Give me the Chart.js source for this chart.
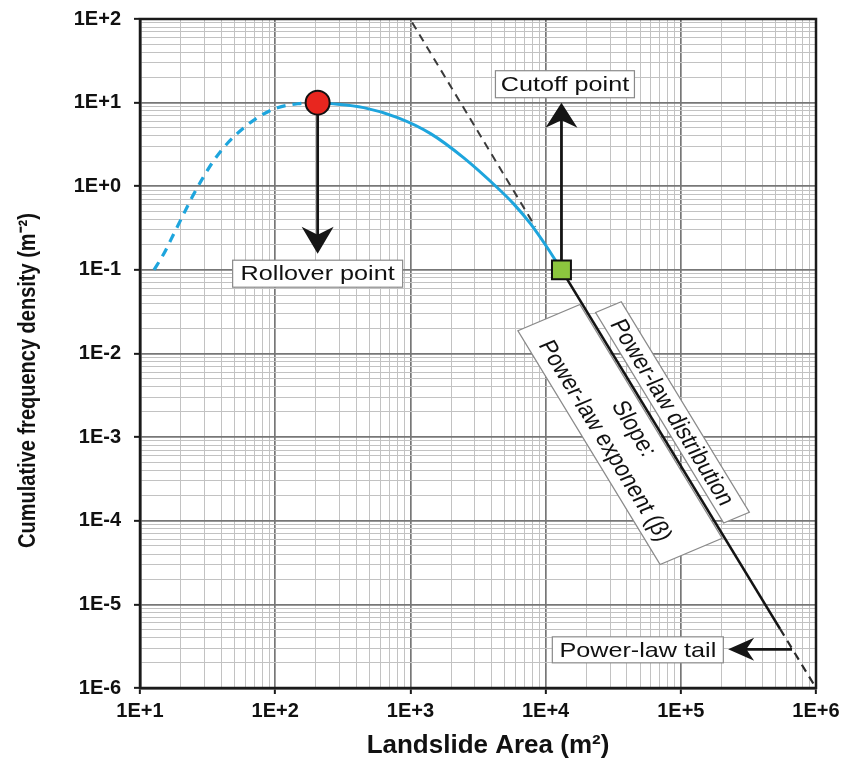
<!DOCTYPE html>
<html>
<head>
<meta charset="utf-8">
<script src="https://cdn.jsdelivr.net/npm/chart.js@4.4.1/dist/chart.umd.min.js"></script>
<style>
  html, body { margin: 0; padding: 0; background: #fff; }
  #wrap { width: 843px; height: 762px; }
</style>
</head>
<body>
<div id="wrap"><canvas id="chart" width="843" height="762"></canvas></div>
<script>
// axis decades and labels
const xTicks = [1e1, 1e2, 1e3, 1e4, 1e5, 1e6];
const xTickLabels = ["1E+1", "1E+2", "1E+3", "1E+4", "1E+5", "1E+6"];
const yTicks = [1e-6, 1e-5, 1e-4, 1e-3, 1e-2, 1e-1, 1e0, 1e1, 1e2];
const yTickLabels = ["1E-6", "1E-5", "1E-4", "1E-3", "1E-2", "1E-1", "1E+0", "1E+1", "1E+2"];
const minorSteps = [2, 3, 4, 5, 6, 7, 8, 9];
const xTitle = "Landslide Area (m\u00b2)";
const yTitle = "Cumulative frequency density (m\u207b\u00b2)";

// rising limb (dashed blue) up to the rollover
const risingX = [12.7, 15, 17.8, 21.1, 24.6, 29.2, 35.2, 44.7, 58.7, 78.3, 104, 147, 206];
const risingY = [0.1, 0.156, 0.271, 0.47, 0.77, 1.26, 2.04, 3.31, 5.01, 7.0, 8.7, 9.7, 10];

// falling limb (solid blue) rollover -> cutoff
const fallingX = [206, 257, 451, 804, 1410, 2470, 4400, 5780, 7720, 10300, 13100];
const fallingY = [10, 9.73, 8.71, 6.62, 4.26, 2.2, 0.96, 0.62, 0.357, 0.184, 0.1];

// power-law tail (solid black) and its dashed extensions
const tailX = [13100, 542000];
const tailY = [0.1, 5.1e-6];
const tailEndX = [542000, 1e6];
const tailEndY = [5.1e-6, 1e-6];
const upperX = [1030, 8400];
const upperY = [91, 0.327];

const rollover = { x: 206, y: 10 };
const cutoff = { x: 13100, y: 0.1 };

// annotation anchors (data coords)
const labelBoxes = [
  { text: "Rollover point", x: 206, y: 0.09, w: 170, h: 27 },
  { text: "Cutoff point", x: 13900, y: 16.6, w: 139, h: 27 },
  { text: "Power-law tail", x: 48100, y: 2.86e-6, w: 171, h: 26 },
];
const arrows = [
  { from: [206, 10], to: [206, 0.156], len: 27, half: 16 },
  { from: [13100, 0.1], to: [13100, 10], len: 25, half: 16 },
  { from: [6.65e5, 2.9e-6], to: [2.24e5, 2.9e-6], len: 26, half: 11.5 },
];
const slopeBoxes = [
  { lines: ["Power-law distribution"], x: 62500, y: 1.58e-3, dy: -18, w: 236, h: 24 },
  { lines: ["Slope:", "Power-law exponent (\u03b2)"], x: 62500, y: 1.58e-3, dy: 31, w: 262, h: 58 },
];

const STRETCH = 1.2;

function pts(xs, ys) {
  return xs.map((x, i) => ({ x, y: ys[i] }));
}

function isMajor(v) {
  const l = Math.log10(v);
  return Math.abs(l - Math.round(l)) < 1e-9;
}

function buildTicks(decades) {
  const out = [];
  decades.forEach((d, i) => {
    out.push({ value: d });
    if (i < decades.length - 1) minorSteps.forEach((m) => out.push({ value: d * m }));
  });
  return out;
}

function gridFor(ctx) {
  return ctx.tick && isMajor(ctx.tick.value);
}

function stretchedText(ctx, text, x, y, angle) {
  ctx.save();
  ctx.translate(x, y);
  ctx.scale(STRETCH, 1);
  if (angle) ctx.rotate(angle);
  ctx.fillText(text, 0, 0);
  ctx.restore();
}

const annotationPlugin = {
  id: "annotations",
  beforeDatasetsDraw(chart) {
    const { ctx, scales: { x, y } } = chart;
    ctx.save();

    // arrows
    ctx.fillStyle = "#151515";
    ctx.strokeStyle = "#151515";
    arrows.forEach((a) => {
      const x0 = x.getPixelForValue(a.from[0]);
      const y0 = y.getPixelForValue(a.from[1]);
      const x1 = x.getPixelForValue(a.to[0]);
      const y1 = y.getPixelForValue(a.to[1]);
      const ang = Math.atan2(y1 - y0, x1 - x0);
      const ux = Math.cos(ang), uy = Math.sin(ang);
      ctx.lineWidth = 2.8;
      ctx.beginPath();
      ctx.moveTo(x0, y0);
      ctx.lineTo(x1 - ux * a.len * 0.6, y1 - uy * a.len * 0.6);
      ctx.stroke();
      const bx = x1 - ux * a.len, by = y1 - uy * a.len;
      ctx.beginPath();
      ctx.moveTo(x1, y1);
      ctx.lineTo(bx - uy * a.half, by + ux * a.half);
      ctx.lineTo(x1 - ux * a.len * 0.7, y1 - uy * a.len * 0.7);
      ctx.lineTo(bx + uy * a.half, by - ux * a.half);
      ctx.closePath();
      ctx.fill();
    });

    // flat label boxes
    ctx.font = "21px Arial, 'Liberation Sans', sans-serif";
    ctx.textAlign = "center";
    ctx.textBaseline = "middle";
    labelBoxes.forEach((b) => {
      const cx = x.getPixelForValue(b.x);
      const cy = y.getPixelForValue(b.y);
      ctx.fillStyle = "#ffffff";
      ctx.fillRect(cx - b.w / 2, cy - b.h / 2, b.w, b.h);
      ctx.strokeStyle = "#8a8a8a";
      ctx.lineWidth = 1.2;
      ctx.strokeRect(cx - b.w / 2, cy - b.h / 2, b.w, b.h);
      ctx.fillStyle = "#111111";
      stretchedText(ctx, b.text, cx, cy + 1);
    });

    // rotated boxes along the power-law line
    const px0 = x.getPixelForValue(tailX[0]), py0 = y.getPixelForValue(tailY[0]);
    const px1 = x.getPixelForValue(tailEndX[1]), py1 = y.getPixelForValue(tailEndY[1]);
    const rot = Math.atan2(py1 - py0, (px1 - px0) / STRETCH);
    slopeBoxes.forEach((b) => {
      const cx = x.getPixelForValue(b.x);
      const cy = y.getPixelForValue(b.y);
      ctx.save();
      ctx.translate(cx, cy);
      ctx.scale(STRETCH, 1);
      ctx.rotate(rot);
      ctx.fillStyle = "#ffffff";
      ctx.fillRect(-b.w / 2, b.dy - b.h / 2, b.w, b.h);
      ctx.strokeStyle = "#8a8a8a";
      ctx.lineWidth = 1.1;
      ctx.strokeRect(-b.w / 2, b.dy - b.h / 2, b.w, b.h);
      ctx.fillStyle = "#111111";
      const step = 27;
      b.lines.forEach((line, i) => {
        const off = (i - (b.lines.length - 1) / 2) * step;
        ctx.fillText(line, 0, b.dy + off + 1);
      });
      ctx.restore();
    });

    ctx.restore();
  },
  afterDatasetsDraw(chart) {
    const { ctx, chartArea: a } = chart;
    ctx.save();
    ctx.strokeStyle = "#1a1a1a";
    ctx.lineWidth = 2.5;
    ctx.strokeRect(a.left, a.top, a.right - a.left, a.bottom - a.top);
    ctx.restore();
  },
  afterDraw(chart) {
    // axis titles
    const { ctx, chartArea: a } = chart;
    ctx.save();
    ctx.fillStyle = "#111111";
    ctx.textAlign = "center";
    ctx.textBaseline = "middle";
    ctx.font = "bold 26px Arial, 'Liberation Sans', sans-serif";
    ctx.fillText(xTitle, (a.left + a.right) / 2 + 10, 746);
    ctx.font = "bold 20px Arial, 'Liberation Sans', sans-serif";
    stretchedText(ctx, yTitle, 28, (a.top + a.bottom) / 2 + 27, -Math.PI / 2);
    ctx.restore();
  },
};

const tickFont = { family: "Arial, 'Liberation Sans', sans-serif", size: 20, weight: "bold" };

function fixPadding(scale) {
  scale.paddingTop = 0;
  scale.paddingBottom = 0;
  scale.paddingLeft = 0;
  scale.paddingRight = 0;
}

const chart = new Chart(document.getElementById("chart"), {
  type: "line",
  data: {
    datasets: [
      {
        data: [rollover],
        showLine: false,
        pointStyle: "circle",
        pointRadius: 12,
        pointBackgroundColor: "#e8261f",
        pointBorderColor: "#111111",
        pointBorderWidth: 2,
      },
      {
        data: [cutoff],
        showLine: false,
        pointStyle: "rect",
        pointRadius: 13.4,
        pointBackgroundColor: "#8cc63e",
        pointBorderColor: "#111111",
        pointBorderWidth: 2,
      },
      {
        data: pts(tailX, tailY),
        borderColor: "#141414",
        borderWidth: 2.6,
        pointRadius: 0,
      },
      {
        data: pts(tailEndX, tailEndY),
        borderColor: "#2a2a2a",
        borderWidth: 2.2,
        borderDash: [8, 6],
        pointRadius: 0,
      },
      {
        data: pts(fallingX, fallingY),
        borderColor: "#1ea5dd",
        borderWidth: 3,
        pointRadius: 0,
        cubicInterpolationMode: "monotone",
      },
      {
        data: pts(risingX, risingY),
        borderColor: "#1ea5dd",
        borderWidth: 3.2,
        borderDash: [9, 7],
        pointRadius: 0,
        cubicInterpolationMode: "monotone",
      },
      {
        data: pts(upperX, upperY),
        borderColor: "#3a3a3a",
        borderWidth: 2,
        borderDash: [8, 6],
        pointRadius: 0,
      },
    ],
  },
  options: {
    responsive: false,
    animation: false,
    layout: { padding: { left: 12, top: 19, right: 27, bottom: 0 } },
    plugins: { legend: { display: false }, tooltip: { enabled: false } },
    scales: {
      x: {
        type: "logarithmic",
        min: 10,
        max: 1e6,
        afterBuildTicks: (scale) => { scale.ticks = buildTicks(xTicks); },
        afterFit: (scale) => { scale.height = 74; fixPadding(scale); },
        ticks: {
          autoSkip: false,
          maxRotation: 0,
          padding: 5,
          color: "#111111",
          font: tickFont,
          callback: (v) => { const i = xTicks.findIndex((t) => Math.abs(t - v) / t < 1e-9); return i >= 0 ? xTickLabels[i] : ""; },
        },
        grid: {
          color: (c) => (gridFor(c) ? "#777777" : "#c2c2c2"),
          lineWidth: (c) => (gridFor(c) ? 1.7 : 1),
          tickLength: 6,
          tickColor: (c) => (gridFor(c) ? "#1a1a1a" : "rgba(0,0,0,0)"),
          tickWidth: 2,
        },
        border: { color: "#1a1a1a", width: 2.5 },
        title: { display: false, text: xTitle },
      },
      y: {
        type: "logarithmic",
        min: 1e-6,
        max: 100,
        afterBuildTicks: (scale) => { scale.ticks = buildTicks(yTicks); },
        afterFit: (scale) => { scale.width = 128; fixPadding(scale); },
        ticks: {
          autoSkip: false,
          padding: 13,
          color: "#111111",
          font: tickFont,
          callback: (v) => { const i = yTicks.findIndex((t) => Math.abs(t - v) / t < 1e-9); return i >= 0 ? yTickLabels[i] : ""; },
        },
        grid: {
          color: (c) => (gridFor(c) ? "#777777" : "#c2c2c2"),
          lineWidth: (c) => (gridFor(c) ? 1.7 : 1),
          tickLength: 6,
          tickColor: (c) => (gridFor(c) ? "#1a1a1a" : "rgba(0,0,0,0)"),
          tickWidth: 2,
        },
        border: { color: "#1a1a1a", width: 2.5 },
        title: { display: false, text: yTitle },
      },
    },
  },
  plugins: [annotationPlugin],
});
</script>
</body>
</html>
